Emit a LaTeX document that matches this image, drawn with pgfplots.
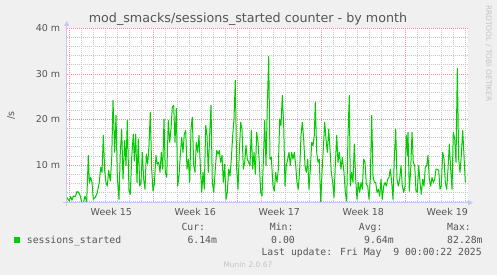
\documentclass[border=0pt]{standalone}
\usepackage{fontspec}
\setmainfont{DejaVu Sans}
\newfontfamily\monofont{DejaVu Sans Mono}
\usepackage{pgfplots}
\pgfplotsset{compat=1.18}
\usetikzlibrary{arrows.meta}
\definecolor{bg}{HTML}{F0F0F0}
\definecolor{txt}{HTML}{555555}
\definecolor{mgrid}{RGB}{235,150,150}
\definecolor{sgrid}{RGB}{200,200,200}
\definecolor{axcol}{RGB}{195,200,245}
\definecolor{lgreen}{HTML}{00CC00}
\definecolor{faint}{RGB}{195,195,195}

\pgfplotstableread{
x y
67.0 2.9
67.7 2.6
69.3 2.1
70.7 3.1
72.0 2.3
73.3 3.2
75.3 3.1
77.0 4.2
78.7 4.0
80.3 3.2
81.7 1.8
83.3 1.6
85.0 3.2
86.7 1.9
88.3 12.1
89.3 6.2
90.7 7.3
92.0 6.2
93.3 2.5
95.3 2.9
97.3 4.0
99.3 6.2
100.7 9.5
102.0 8.4
103.3 16.5
104.7 8.8
106.0 6.2
107.3 5.4
108.7 8.8
110.3 6.5
111.7 11.3
113.0 24.2
114.7 12.8
116.0 20.9
117.3 7.6
119.0 2.5
120.3 12.8
121.7 17.9
123.0 6.9
124.7 15.4
126.0 9.9
127.3 19.8
129.0 4.3
130.3 3.6
131.7 11.7
133.3 16.8
134.3 10.9
135.7 16.8
137.0 6.2
138.3 15.7
139.7 5.4
141.0 6.2
142.3 12.8
143.7 6.9
145.0 4.7
146.3 12.4
147.7 10.2
149.0 14.3
150.3 21.6
151.7 9.1
153.0 4.3
154.3 5.8
156.0 12.1
157.3 10.2
158.7 10.6
160.0 8.4
161.3 12.8
162.7 9.1
164.0 20.1
165.3 8.4
166.7 7.3
168.3 19.8
169.7 15.0
171.0 17.9
172.3 22.7
173.7 23.1
175.0 15.0
176.3 22.4
177.7 5.4
179.0 7.6
180.3 12.1
181.7 16.1
183.0 12.8
184.3 16.8
185.7 17.6
187.0 9.1
188.3 11.3
189.7 6.2
191.0 17.9
192.3 20.5
193.7 9.9
195.0 8.4
196.3 15.0
197.7 12.8
199.0 16.5
200.3 9.9
201.7 4.0
203.0 8.4
204.3 4.7
205.7 18.7
207.0 16.5
208.3 8.4
209.7 16.8
211.0 23.1
212.3 6.2
213.7 4.0
215.3 9.1
216.7 13.2
218.0 12.4
219.3 13.2
220.7 10.6
222.0 12.1
223.3 6.2
224.7 10.2
226.0 2.5
227.3 4.0
228.7 9.1
230.0 7.6
231.3 11.3
232.7 16.5
234.0 20.1
235.3 28.6
236.7 9.1
238.0 4.7
239.3 12.8
240.7 19.4
242.0 17.9
243.3 9.1
244.7 10.6
246.0 14.3
247.3 11.3
248.7 10.6
250.0 9.9
251.3 17.6
252.7 9.1
254.0 12.8
255.3 8.0
256.7 17.2
258.0 15.0
259.3 10.6
260.7 4.0
262.0 3.2
263.3 10.6
264.7 19.8
266.0 9.9
267.3 23.1
268.7 33.8
270.0 11.3
271.3 11.7
273.0 5.4
274.3 4.3
275.7 8.4
277.0 6.2
278.3 9.1
279.7 20.1
281.0 18.7
282.3 25.3
283.7 18.7
285.0 5.4
286.3 9.9
287.7 11.3
289.0 12.8
290.3 9.9
291.7 12.8
293.0 11.3
294.3 12.8
295.7 9.9
297.0 6.2
298.3 4.7
299.7 9.1
301.0 16.5
302.3 19.4
303.7 15.7
305.0 9.9
306.3 8.4
307.7 11.3
309.0 4.7
310.3 9.1
311.7 15.0
313.0 14.3
314.3 16.5
315.3 23.8
316.7 12.8
318.0 10.6
319.3 11.3
320.7 1.8
322.0 8.4
323.3 13.5
324.7 19.4
326.0 15.7
327.3 12.8
328.7 17.9
330.0 13.5
331.3 8.4
332.7 6.2
334.0 2.9
335.3 9.9
336.7 16.5
338.0 10.6
339.3 12.8
341.0 9.1
342.3 11.7
344.0 8.4
345.3 4.0
346.7 2.1
348.0 16.5
349.3 25.3
350.3 5.4
351.7 8.4
353.0 6.2
354.3 14.6
355.7 6.9
357.0 2.5
358.3 6.2
359.7 4.0
361.0 6.2
362.3 4.7
363.7 11.3
365.0 10.6
366.3 5.8
367.7 5.4
369.0 2.5
370.3 6.9
371.7 20.9
373.0 7.6
374.3 6.2
375.7 6.2
377.0 4.0
378.3 4.7
379.7 3.2
381.0 6.9
382.3 2.5
383.7 5.4
385.0 6.2
386.3 5.4
387.7 6.9
389.0 7.3
390.3 9.1
391.7 6.2
393.0 2.5
394.3 11.3
395.7 17.9
397.0 6.9
398.3 5.4
399.7 6.9
401.0 9.9
402.3 5.4
403.7 4.0
405.0 5.4
406.3 16.5
407.7 12.1
408.0 17.2
409.3 4.3
410.7 9.1
412.0 17.2
413.3 10.6
414.7 9.9
416.0 4.3
417.3 4.0
418.7 9.9
420.0 6.2
421.3 3.6
422.7 6.9
424.0 5.4
425.3 9.5
426.7 9.9
428.0 12.1
429.3 6.9
430.7 5.4
432.0 7.3
433.3 6.2
434.7 6.9
436.0 9.1
437.3 9.1
438.7 8.8
440.0 4.7
441.3 5.4
442.7 12.8
444.0 11.3
445.3 6.2
446.7 4.7
448.0 9.1
449.3 14.6
450.7 9.1
452.0 4.7
453.3 17.2
454.7 15.7
456.0 10.6
457.3 31.2
458.7 11.3
460.0 8.4
461.3 12.1
462.7 17.6
464.0 12.1
465.3 6.2
}\sessions

\begin{document}
\begin{tikzpicture}
\fill[bg] (0,0) rectangle (497bp,275bp);
\begin{axis}[
  at={(66.7bp,72.3bp)}, anchor=south west,
  scale only axis, width=401.3bp, height=174.4bp,
  xmin=66.7, xmax=468, ymin=1.75, ymax=40,
  axis background/.style={fill=white},
  axis line style={draw=none},
  tick style={draw=none},
  xtick={111.3,195.3,279.3,363.3,447.3},
  xticklabels={Week 15,Week 16,Week 17,Week 18,Week 19},
  ytick={10,20,30,40},
  yticklabels={10 m,20 m,30 m,40 m},
  minor xtick={81.3,93.3,105.3,117.3,129.3,141.3,165.3,177.3,189.3,201.3,213.3,225.3,249.3,261.3,273.3,285.3,297.3,309.3,333.3,345.3,357.3,369.3,381.3,393.3,417.3,429.3,441.3,453.3,465.3},
  minor ytick={2,4,6,8,12,14,16,18,22,24,26,28,32,34,36,38},
  xminorgrids=true, ymajorgrids=true, yminorgrids=true, xmajorgrids=false,
  minor grid style={sgrid, line width=0.7bp, dash pattern=on 1bp off 1bp},
  major grid style={mgrid, line width=0.7bp, dash pattern=on 1bp off 1bp},
  extra x ticks={69.3,153.3,237.3,321.3,405.3},
  extra x tick labels={},
  extra x tick style={grid=major, major grid style={mgrid, line width=0.7bp, dash pattern=on 1bp off 1bp}},
  ticklabel style={font=\fontsize{9.5bp}{11bp}\selectfont, text=txt},
  yticklabel style={xshift=-3bp},
  xticklabel style={yshift=-2.3bp},
  clip=true,
]
\addplot[lgreen, line width=1bp, line join=round] table[x=x,y=y] {\sessions};
\end{axis}
\draw[axcol, line width=1bp, -{Triangle[width=5bp,length=5bp]}] (63bp,72.3bp) -- (473bp,72.3bp);
\draw[axcol, line width=1bp, -{Triangle[width=5bp,length=5bp]}] (66.7bp,69bp) -- (66.7bp,254bp);
\node[anchor=base, text=txt, font=\fontsize{12.7bp}{14bp}\selectfont, inner sep=0] at (248bp,252bp) {mod\_smacks/sessions\_started counter - by month};
\node[rotate=90, text=txt, font=\fontsize{9.5bp}{11bp}\selectfont, inner sep=0] at (11bp,159.3bp) {/s};
\node[rotate=-90, anchor=west, text=faint, font=\fontsize{7.5bp}{9bp}\selectfont, inner sep=0] at (488.5bp,270bp) {RRDTOOL / TOBI OETIKER};
\fill[lgreen] (14bp,31.7bp) rectangle (20bp,37.7bp);
\begin{scope}[every node/.style={anchor=base west, inner sep=0, text=txt, font=\monofont\fontsize{9.8bp}{11bp}\selectfont}]
\node at (26.7bp,31.4bp) {sessions\_started};
\node at (181.3bp,44.1bp) {Cur:};
\node at (269.7bp,44.1bp) {Min:};
\node at (358.7bp,44.1bp) {Avg:};
\node at (447bp,44.1bp) {Max:};
\node at (187.3bp,31.4bp) {6.14m};
\node at (271bp,31.4bp) {0.00};
\node at (364bp,31.4bp) {9.64m};
\node at (447bp,31.4bp) {82.28m};
\node at (261.3bp,19.7bp) {Last update: Fri May\ \ 9 00:00:22 2025};
\end{scope}
\node[anchor=base west, inner sep=0, text=faint, font=\fontsize{7.46bp}{9bp}\selectfont] at (223.3bp,8bp) {Munin 2.0.67};
\pgfresetboundingbox
\path[use as bounding box] (0,0) rectangle (497bp,275bp);
\end{tikzpicture}
\end{document}
